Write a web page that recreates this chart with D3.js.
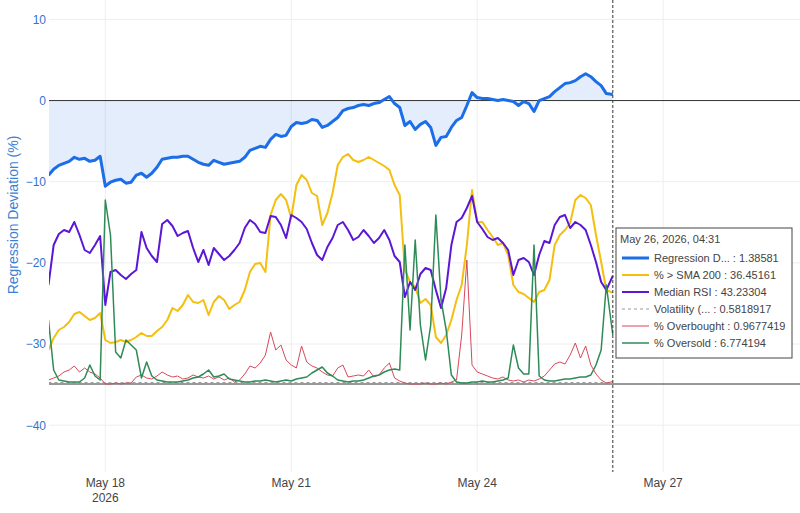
<!DOCTYPE html>
<html>
<head>
<meta charset="utf-8">
<script src="https://cdn.jsdelivr.net/npm/d3@7"></script>
<style>
  body { margin: 0; background: #fff; }
  svg { display: block; font-family: "Liberation Sans", Arial, sans-serif; }
</style>
</head>
<body>
<svg id="chart" width="800" height="513"></svg>
<script>
// sampled every 2h from May 17 02:00 (UTC), last point May 26 04:31
const regression = [
  -9.2, -8.47, -7.98, -7.73, -7.49, -6.99, -7.24, -7.12, -7.49, -7.36,
  -6.87, -10.55, -10.06, -9.82, -9.69, -10.18, -10.06, -9.2, -8.96, -9.45,
  -8.96, -8.22, -7.24, -7.12, -6.99, -6.99, -6.87, -6.87, -7.24, -7.61,
  -7.85, -7.98, -7.36, -7.61, -7.85, -7.73, -7.61, -7.49, -6.99, -6.13,
  -5.89, -5.64, -5.77, -4.79, -4.17, -4.42, -4.29, -3.19, -2.7, -2.82,
  -2.7, -2.33, -2.45, -3.31, -3.07, -2.58, -2.09, -1.23, -0.98, -0.86,
  -0.61, -0.49, -0.61, -0.37, -0.25, 0.12, 0.49, -0.37, -0.86, -3.07,
  -2.58, -3.56, -2.94, -2.58, -3.31, -5.52, -4.54, -4.42, -3.31, -2.45,
  -2.09, -0.61, 0.98, 0.37, 0.25, 0.25, 0.12, 0, 0.12, 0,
  -0.12, -0.61, -0.12, -0.37, -1.35, 0, 0.25, 0.49, 1.1, 1.6,
  2.09, 2.21, 2.45, 2.94, 3.31, 2.94, 2.33, 1.84, 0.86, 0.74
];
const aboveSma = [
  13.6, 18.4, 21.6, 22.8, 24.8, 28, 28.8, 27.2, 25.6, 26.4,
  28.4, 17.6, 16.4, 16.8, 17.6, 16.8, 17.6, 18.8, 20.4, 19.2,
  19.2, 21.2, 22.8, 25.6, 30.4, 29.2, 31.6, 35.6, 32.8, 32.4,
  33.6, 27.6, 32.8, 35.2, 33.6, 30, 31.6, 32.8, 37.6, 44.8,
  48, 48.4, 44.8, 67.6, 73.6, 76, 73.6, 66.4, 79.6, 83.6,
  81.6, 76.4, 75.2, 63.6, 68.4, 76.4, 87.6, 90.8, 92, 89.6,
  88.8, 89.6, 90.8, 89.6, 88.4, 87.2, 85.6, 79.6, 75.6, 45.6,
  40.8, 38.8, 32.4, 34, 31.6, 18.8, 16.4, 19.6, 25.6, 33.6,
  39.6, 55.6, 77.6, 64.8, 64.8, 61.6, 58.8, 55.6, 56.4, 51.6,
  39.6, 36.8, 36, 34.4, 32.8, 36.8, 37.6, 41.6, 55.6, 59.6,
  61.6, 64.4, 73.6, 75.6, 74.4, 71.6, 59.6, 48.8, 37.6, 36.45
];
const medianRsi = [
  39.6, 55.6, 60, 61.6, 60.8, 64.8, 59.6, 53.6, 52.4, 55.6,
  59.2, 31.6, 44.8, 45.6, 43.6, 42, 44, 45.6, 60.8, 54.4,
  51.2, 48.8, 64, 65.6, 63.2, 59.2, 60.4, 61.2, 54.4, 48.8,
  53.6, 47.6, 54.4, 52, 49.6, 51.2, 53.6, 56.4, 62.4, 65.6,
  64, 60.8, 60.4, 67.2, 66.8, 63.6, 58.4, 67.6, 66.4, 64.8,
  62, 56.4, 51.6, 49.6, 54.8, 58.4, 63.6, 64.8, 61.6, 57.6,
  58.8, 61.6, 59.2, 56.4, 58.4, 61.6, 57.6, 51.2, 48.8, 34.8,
  40.8, 37.6, 44, 46.4, 45.6, 37.6, 30.4, 38.4, 55.6, 64.8,
  66.4, 70.4, 75.2, 64.8, 62, 58.8, 57.6, 58.4, 56.4, 53.6,
  43.6, 49.6, 50.4, 48.8, 43.6, 51.6, 57.2, 56.4, 63.6, 66.8,
  67.6, 62.4, 64.8, 63.6, 61.6, 55.6, 48.8, 40.8, 37.6, 43.23
];
const overbought = [
  1.6, 2.4, 3.2, 4.8, 5.6, 7.2, 4.8, 6.4, 4.8, 4,
  2.4, 0, 0, 0.4, 0, 0.4, 0.4, 2.8, 3.6, 2.4,
  2, 3.2, 4.8, 3.6, 2.8, 3.2, 2, 2.4, 3.6, 2.8,
  2.4, 3.2, 2, 2.8, 1.6, 2.4, 0.8, 1.6, 4, 7.2,
  6.4, 8.4, 11.6, 20.8, 13.6, 15.6, 9.6, 7.6, 6.4, 15.2,
  8.8, 7.2, 6.4, 4.8, 3.6, 3.2, 6.4, 7.6, 2.8, 3.2,
  3.6, 3.2, 5.6, 2.8, 3.6, 6.4, 8.4, 2.4, 1.2, 0.4,
  0, 0, 0, 0.4, 0, 0, 0.4, 0, 0.8, 1.6,
  19.6, 49.6, 7.6, 4.8, 4, 3.2, 2.4, 2, 2.8, 1.6,
  1.2, 1.6, 0.8, 1.6, 1.2, 2, 3.2, 5.6, 8, 8.8,
  8, 11.6, 16.4, 10.4, 15.2, 7.6, 4, 1.6, 0.4, 0.97
];
const oversold = [
  25.6, 5.6, 1.6, 1.2, 0.8, 0.8, 0.8, 2.4, 7.6, 3.2,
  1.6, 73.6, 59.6, 12.8, 10.4, 17.6, 15.6, 13.6, 2.4, 8.8,
  3.2, 1.6, 1.2, 0.8, 0.8, 0.8, 1.2, 1.6, 2.4, 2.8,
  4, 5.6, 2.8, 3.2, 4, 2, 1.6, 1.2, 0.8, 0.8,
  1.2, 1.2, 1.6, 1.2, 0.8, 1.2, 1.6, 1.2, 2, 2.4,
  2.8, 4.4, 5.6, 6.8, 4.4, 3.2, 1.6, 1.2, 0.8, 1.2,
  1.2, 1.6, 2.4, 3.2, 3.6, 4.8, 5.6, 6, 5.6, 55.6,
  21.6, 57.6, 23.6, 9.6, 23.6, 67.6, 33.6, 21.6, 3.6, 0.8,
  0.4, 0.4, 0.8, 0.8, 1.2, 0.8, 0.8, 1.2, 1.6, 2.4,
  15.6, 6.4, 4, 4, 55.6, 3.2, 1.6, 1.2, 1.2, 1.6,
  2, 2, 2.4, 2.8, 2.8, 3.6, 7.6, 13.6, 39.6, 19.6
];
// volatility is nearly flat, read once a day
const volTimes = ['2026-05-17T02:00', '2026-05-18T02:00', '2026-05-19T02:00', '2026-05-20T02:00', '2026-05-21T02:00',
  '2026-05-22T02:00', '2026-05-23T02:00', '2026-05-24T02:00', '2026-05-25T02:00', '2026-05-26T04:31'];
const volatility = [0.62, 0.55, 0.6, 0.58, 0.57, 0.61, 0.6, 0.59, 0.58, 0.58];

const xTicks = ['2026-05-18', '2026-05-21', '2026-05-24', '2026-05-27'];
const yTicks = [10, 0, -10, -20, -30, -40];
const legendNames = ['Regression D...', '% > SMA 200', 'Median RSI', 'Volatility (...', '% Overbought', '% Oversold'];
const legendValues = ['1.38581', '36.45161', '43.23304', '0.5818917', '0.9677419', '6.774194'];
const hoverTitle = 'May 26, 2026, 04:31';

const parse = d3.utcParse('%Y-%m-%dT%H:%M');
const t0 = Date.UTC(2026, 4, 17, 2, 0);
const tEnd = parse('2026-05-26T04:31');
const times = regression.map((d, i) => i === regression.length - 1 ? tEnd : new Date(t0 + i * 2 * 3600e3));

const W = 800, H = 513;
const plot = { left: 49, right: 800, top: 0, bottom: 472 };

const svg = d3.select('#chart');

const x = d3.scaleUtc()
  .domain([new Date(t0), new Date(Date.UTC(2026, 4, 29, 5, 0))])
  .range([48.5, 800]);
const y = d3.scaleLinear().domain([-45.77, 12.39]).range([plot.bottom, plot.top]);
const y2 = d3.scaleLinear().domain([-35.2, 153.6]).range([plot.bottom, plot.top]);

svg.append('defs').append('clipPath').attr('id', 'clip')
  .append('rect').attr('x', plot.left).attr('y', plot.top)
  .attr('width', plot.right - plot.left).attr('height', plot.bottom - plot.top);

// grid
const tickDates = xTicks.map(d3.utcParse('%Y-%m-%d'));
svg.append('g').selectAll('line').data(tickDates).join('line')
  .attr('x1', d => x(d)).attr('x2', d => x(d))
  .attr('y1', plot.top).attr('y2', plot.bottom)
  .attr('stroke', '#eee');
svg.append('g').selectAll('line').data(yTicks.filter(d => d !== 0)).join('line')
  .attr('x1', plot.left).attr('x2', plot.right)
  .attr('y1', d => y(d)).attr('y2', d => y(d))
  .attr('stroke', '#eee');

// y axis
const yAxis = svg.append('g')
  .attr('transform', `translate(${plot.left},0)`)
  .call(d3.axisLeft(y).tickValues(yTicks).tickSize(0).tickPadding(3));
yAxis.select('.domain').remove();
yAxis.selectAll('text').attr('fill', '#2f74d0').attr('font-size', 12)
  .attr('font-family', '"Liberation Sans", Arial, sans-serif');

svg.append('text')
  .attr('transform', `translate(13,${(plot.top + plot.bottom) / 2 - 21}) rotate(-90)`)
  .attr('text-anchor', 'middle').attr('dominant-baseline', 'central')
  .attr('fill', '#3b7fd6').attr('font-size', 14)
  .text('Regression Deviation (%)');

// x axis labels
const xl = svg.append('g').selectAll('text').data(tickDates).join('text')
  .attr('x', d => x(d)).attr('y', 487)
  .attr('text-anchor', 'middle').attr('fill', '#444').attr('font-size', 12);
xl.append('tspan').attr('x', d => x(d)).text(d3.utcFormat('%b %d'));
xl.filter((d, i) => i === 0).append('tspan')
  .attr('x', d => x(d)).attr('dy', 15).text(d3.utcFormat('%Y'));

const g = svg.append('g').attr('clip-path', 'url(#clip)');

// regression fill to zero
g.append('path')
  .datum(regression)
  .attr('fill', 'rgba(30,110,232,0.12)')
  .attr('d', d3.area().x((d, i) => x(times[i])).y0(y(0)).y1(d => y(d)));

// zero lines
g.append('line').attr('x1', plot.left).attr('x2', plot.right)
  .attr('y1', y(0)).attr('y2', y(0)).attr('stroke', '#333');
g.append('line').attr('x1', plot.left).attr('x2', plot.right)
  .attr('y1', y2(0)).attr('y2', y2(0)).attr('stroke', '#333');

const series = [
  { vals: regression, scale: y, color: '#1c6ee8', width: 3 },
  { vals: aboveSma, scale: y2, color: '#f5bf0f', width: 2 },
  { vals: medianRsi, scale: y2, color: '#5b16d6', width: 2 },
  { vals: null, scale: y2, color: '#999', width: 1, dash: '3,3' },
  { vals: overbought, scale: y2, color: '#d6495a', width: 1 },
  { vals: oversold, scale: y2, color: '#2e8b57', width: 1.5 }
];

series.forEach(s => {
  if (s.vals === null) {
    g.append('path').datum(volatility)
      .attr('fill', 'none').attr('stroke', s.color).attr('stroke-width', s.width)
      .attr('stroke-dasharray', s.dash)
      .attr('d', d3.line().x((d, i) => x(parse(volTimes[i]))).y(d => s.scale(d)));
    return;
  }
  g.append('path').datum(s.vals)
    .attr('fill', 'none').attr('stroke', s.color).attr('stroke-width', s.width)
    .attr('stroke-linejoin', 'round')
    .attr('d', d3.line().x((d, i) => x(times[i])).y(d => s.scale(d)));
});

// hover spike line
svg.append('line')
  .attr('x1', x(tEnd)).attr('x2', x(tEnd))
  .attr('y1', plot.top).attr('y2', plot.bottom)
  .attr('stroke', '#333').attr('stroke-dasharray', '3,2');

// unified hover label
const lg = svg.append('g').attr('transform', 'translate(616,228)');
lg.append('rect').attr('width', 176).attr('height', 130)
  .attr('fill', '#fff').attr('stroke', '#444');
lg.append('text').attr('x', 4).attr('y', 15)
  .attr('fill', '#444').attr('font-size', 11).text(hoverTitle);
legendNames.forEach((name, i) => {
  const s = series[i];
  const yy = 30 + i * 17;
  lg.append('line').attr('x1', 6).attr('x2', 33).attr('y1', yy).attr('y2', yy)
    .attr('stroke', s.color).attr('stroke-width', s.width)
    .attr('stroke-dasharray', s.dash || null);
  lg.append('text').attr('x', 38).attr('y', yy + 4)
    .attr('fill', '#444').attr('font-size', 11)
    .text(`${name} : ${legendValues[i]}`);
});
</script>
</body>
</html>
